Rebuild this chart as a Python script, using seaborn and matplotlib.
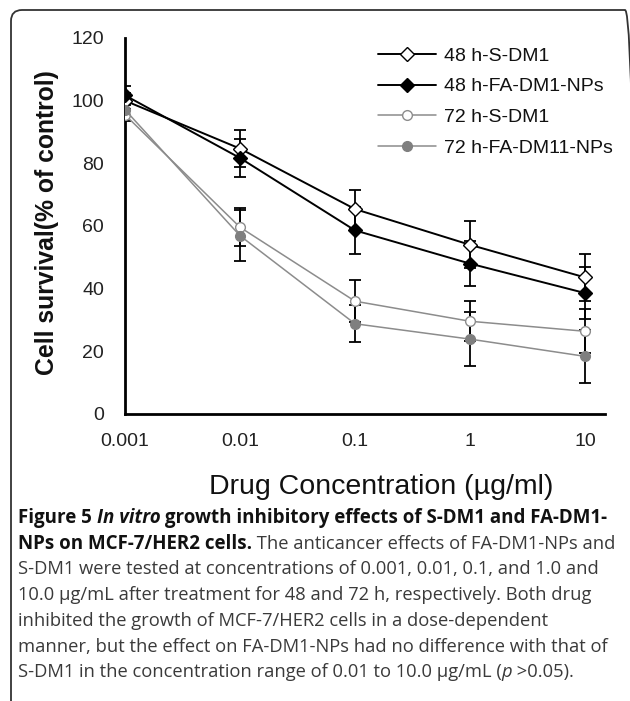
import matplotlib
matplotlib.use("Agg")
import matplotlib.pyplot as plt
from matplotlib.patches import FancyBboxPatch
import seaborn as sns
import numpy as np
import pandas as pd

# ---------------- data ----------------
conc = [0.001, 0.01, 0.1, 1, 10]
tick_labels = ["0.001", "0.01", "0.1", "1", "10"]
series_names = ["48 h-S-DM1", "48 h-FA-DM1-NPs", "72 h-S-DM1", "72 h-FA-DM11-NPs"]
s48_sdm1 = [100.0, 84.7, 65.4, 54.0, 43.6]
s48_fa = [101.7, 81.7, 58.6, 48.0, 38.6]
s72_sdm1 = [95.5, 59.6, 36.0, 29.6, 26.4]
s72_fa = [97.1, 56.9, 28.8, 23.9, 18.4]
e48_sdm1 = [2.5, 5.8, 6.2, 7.5, 7.5]
e48_fa = [3.0, 6.2, 7.5, 7.3, 8.3]
e72_sdm1 = [2.0, 6.1, 6.7, 6.4, 7.0]
e72_fa = [2.0, 8.2, 5.9, 8.5, 8.5]

values = [s48_sdm1, s48_fa, s72_sdm1, s72_fa]
errors = [e48_sdm1, e48_fa, e72_sdm1, e72_fa]

df = pd.DataFrame({
    "conc": np.tile(conc, 4),
    "survival": np.concatenate(values),
    "series": np.repeat(series_names, len(conc)),
})

# ---------------- style ----------------
sns.set_theme(style="white")
plt.rcParams["font.family"] = ["Liberation Sans", "DejaVu Sans"]

styles = {
    "48 h-S-DM1": dict(color="black", marker="D", mfc="white", mec="black", lw=1.4, ms=9),
    "48 h-FA-DM1-NPs": dict(color="black", marker="D", mfc="black", mec="black", lw=1.4, ms=9),
    "72 h-S-DM1": dict(color="#8c8c8c", marker="o", mfc="white", mec="#8c8c8c", lw=1.1, ms=9.5),
    "72 h-FA-DM11-NPs": dict(color="#8c8c8c", marker="o", mfc="#7f7f7f", mec="#7f7f7f", lw=1.1, ms=9.5),
}

W, H = 630, 701
fig = plt.figure(figsize=(W / 100, H / 100), dpi=100)
ax = fig.add_axes([125 / W, 1 - 414 / H, 480 / W, 376 / H])

# error bars (behind markers)
for name, v, e in zip(series_names, values, errors):
    ax.errorbar(conc, v, yerr=e, fmt="none", ecolor="black", elinewidth=1.3,
                capsize=4, capthick=1.3, zorder=1)

for name in series_names:
    st = styles[name]
    sns.lineplot(data=df[df.series == name], x="conc", y="survival", ax=ax,
                 color=st["color"], marker=st["marker"], markerfacecolor=st["mfc"],
                 markeredgecolor=st["mec"], markeredgewidth=1.0, linewidth=st["lw"],
                 markersize=st["ms"], label=name, errorbar=None, zorder=3)

ax.set_xscale("log")
ax.set_xlim(0.001, 10 ** 1.174)
ax.set_ylim(0, 120)
ax.set_xticks(conc)
ax.set_xticklabels(tick_labels)
ax.minorticks_off()
ax.set_yticks(np.arange(0, 121, 20))
ax.set_xlabel("")
ax.set_ylabel("")
for s in ["top", "right"]:
    ax.spines[s].set_visible(False)
for s in ["left", "bottom"]:
    ax.spines[s].set_linewidth(2.0)
    ax.spines[s].set_color("black")
ax.tick_params(axis="both", which="major", direction="out", length=5, width=1.3,
               colors="black", labelcolor="#222222", labelsize=14)
ax.tick_params(axis="x", pad=9)
ax.tick_params(axis="y", pad=10)
ax.patch.set_alpha(0)

# legend
handles, labels = ax.get_legend_handles_labels()
for h in handles:
    h.set_markersize(7)
leg = ax.legend(handles, labels, loc="upper left",
                bbox_to_anchor=(378 / W, 1 - 47 / H), bbox_transform=fig.transFigure,
                frameon=False, fontsize=14, handlelength=3.0, handletextpad=0.4,
                labelspacing=0.68, borderpad=0, borderaxespad=0)
for t in leg.get_texts():
    t.set_color("#111111")

# axis labels
fig.text(47 / W, 1 - 223 / H, "Cell survival(% of control)", rotation=90,
         ha="center", va="center", fontsize=17.8, fontweight="bold",
         color="#111111")
fig.text(381 / W, 1 - 487 / H, "Drug Concentration (\u00b5g/ml)", ha="center",
         va="center", fontsize=20.5, color="#111111")

# border
border = FancyBboxPatch((0.11, -0.3), 6.25, 6.91 + 0.3,
                        boxstyle="round,pad=0,rounding_size=0.11",
                        transform=fig.dpi_scale_trans, fill=False,
                        edgecolor="#333333", linewidth=1.3, clip_on=False)
fig.patches.append(border)

# caption with mixed styles
cap_font = ["Open Sans", "DejaVu Sans"]
cap_sizes = {"normal": 13.2, "bold": 13.5}
caption_lines = [
    [("Figure 5 ", "bold", "normal"), ("In vitro", "bold", "italic"),
     (" growth inhibitory effects of S-DM1 and FA-DM1-", "bold", "normal")],
    [("NPs on MCF-7/HER2 cells.", "bold", "normal"),
     (" The anticancer effects of FA-DM1-NPs and", "normal", "normal")],
    [("S-DM1 were tested at concentrations of 0.001, 0.01, 0.1, and 1.0 and", "normal", "normal")],
    [("10.0 \u00b5g/mL after treatment for 48 and 72 h, respectively. Both drug", "normal", "normal")],
    [("inhibited the growth of MCF-7/HER2 cells in a dose-dependent", "normal", "normal")],
    [("manner, but the effect on FA-DM1-NPs had no difference with that of", "normal", "normal")],
    [("S-DM1 in the concentration range of 0.01 to 10.0 \u00b5g/mL (", "normal", "normal"),
     ("p", "normal", "italic"), (" >0.05).", "normal", "normal")],
]
fig.canvas.draw()
renderer = fig.canvas.get_renderer()
y0 = 518
for i, segs in enumerate(caption_lines):
    x = 18.0
    y = y0 + i * 25.7
    for txt, wt, sty in segs:
        color = "#111111" if wt == "bold" else "#3a3a3a"
        t = fig.text(x / W, 1 - y / H, txt, ha="left", va="center", fontsize=cap_sizes[wt],
                     family=cap_font, fontweight=wt, fontstyle=sty, color=color)
        bb = t.get_window_extent(renderer=renderer)
        x += bb.width

fig.savefig("out.png", dpi=100)
